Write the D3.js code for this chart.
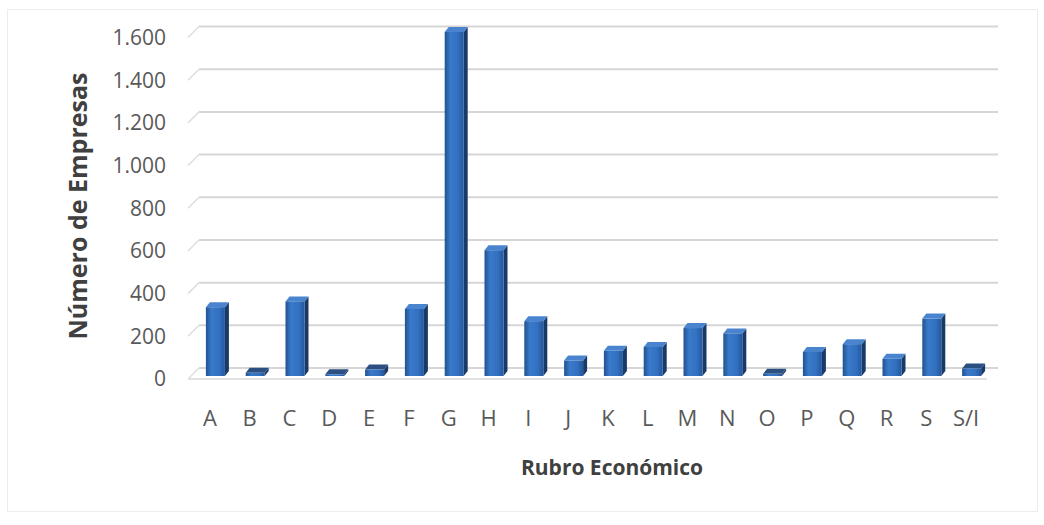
<!DOCTYPE html>
<html lang="es">
<head>
<meta charset="UTF-8">
<title>Número de Empresas por Rubro Económico</title>
<style>
  body { margin: 0; background: #fff; }
  text { font-family: "Open Sans", sans-serif; }
</style>
</head>
<body>
<script src="https://cdn.jsdelivr.net/npm/d3@7"></script>
<script>
    // datos
    var categories = ["A","B","C","D","E","F","G","H","I","J","K","L","M","N","O","P","Q","R","S","S/I"];
    var values = [320, 15, 347, 8, 30, 312, 1600, 585, 255, 72, 117, 135, 223, 198, 10, 112, 148, 80, 267, 35];
    var yTicks = [0, 200, 400, 600, 800, 1000, 1200, 1400, 1600];

    var width = 1044, height = 525;
    var depthX = 11, depthY = -11;     // profundidad del piso/pared
    var barDx = 4, barDy = -5;          // profundidad de cada barra

    var svg = d3.select("body").append("svg")
        .attr("width", width)
        .attr("height", height);

    svg.append("rect").attr("width", width).attr("height", height).attr("fill", "#fff");
    // borde tenue del área del gráfico
    svg.append("rect")
        .attr("x", 7.5).attr("y", 9.5).attr("width", 1030).attr("height", 502)
        .attr("fill", "none").attr("stroke", "#ededed");

    var x = d3.scaleBand().domain(categories).range([190, 986]);
    // plano frontal del eje de valores
    var y = d3.scaleLinear().domain([0, 1600]).range([379, 37.5]);
    // base de las barras (un poco detrás del borde del piso)
    var yBar = d3.scaleLinear().domain([0, 1600]).range([376, 32]);

    var defs = svg.append("defs");
    var g1 = defs.append("linearGradient").attr("id", "front");
    g1.append("stop").attr("offset", "0%").attr("stop-color", "#21528f");
    g1.append("stop").attr("offset", "30%").attr("stop-color", "#3a7acb");
    g1.append("stop").attr("offset", "70%").attr("stop-color", "#3270c0");
    g1.append("stop").attr("offset", "100%").attr("stop-color", "#24589c");

    // gridlines on back wall
    var grid = svg.append("g");
    grid.selectAll("line.grid").data(yTicks).enter().append("line")
        .attr("class", "grid")
        .attr("x1", 188 + depthX).attr("x2", 987 + depthX)
        .attr("y1", function(d){ return y(d) + depthY; })
        .attr("y2", function(d){ return y(d) + depthY; })
        .attr("stroke", "#d6d6d6").attr("stroke-width", 2);
    // diagonals on side wall
    grid.selectAll("line.diag").data(yTicks).enter().append("line")
        .attr("class", "diag")
        .attr("x1", 188).attr("x2", 188 + depthX)
        .attr("y1", function(d){ return y(d); })
        .attr("y2", function(d){ return y(d) + depthY; })
        .attr("stroke", "#dedede").attr("stroke-width", 1.5);
    // front edge of floor
    svg.append("line")
        .attr("x1", 188).attr("x2", 987)
        .attr("y1", y(0)).attr("y2", y(0))
        .attr("stroke", "#e2e2e2").attr("stroke-width", 2);

    // bars
    var bars = svg.selectAll("g.bar").data(values).enter().append("g").attr("class", "bar");
    var bw = 19;
    function bx(d, i){ return x(categories[i]) + x.bandwidth() / 2 - 4; }

    bars.append("polygon")   // side face
        .attr("points", function(d, i){
            var x0 = bx(d, i) + bw, t = yBar(d), b = yBar(0);
            return [[x0, t], [x0 + barDx, t + barDy], [x0 + barDx, b + barDy], [x0, b]].join(" ");
        })
        .attr("fill", "#183a68");
    bars.append("polygon")   // top face
        .attr("points", function(d, i){
            var x0 = bx(d, i), t = yBar(d);
            return [[x0, t], [x0 + barDx, t + barDy], [x0 + bw + barDx, t + barDy], [x0 + bw, t]].join(" ");
        })
        .attr("fill", function(d){ return d < 40 ? "#2c4f82" : "#4a84cf"; });
    bars.append("rect")      // front face
        .attr("x", bx)
        .attr("y", function(d){ return yBar(d); })
        .attr("width", bw)
        .attr("height", function(d){ return yBar(0) - yBar(d); })
        .attr("fill", "url(#front)");

    // value axis labels
    svg.selectAll("text.ytick").data(yTicks).enter().append("text")
        .attr("class", "ytick")
        .attr("x", 166).attr("y", function(d){ return y(d); })
        .attr("dy", "0.35em")
        .attr("text-anchor", "end")
        .attr("font-size", 21)
        .attr("fill", "#595959")
        .text(function(d){ return d3.format(",")(d).replace(/,/g, "."); });

    // category labels
    svg.selectAll("text.xtick").data(categories).enter().append("text")
        .attr("class", "xtick")
        .attr("x", function(d){ return x(d) + x.bandwidth() / 2; })
        .attr("y", 426)
        .attr("text-anchor", "middle")
        .attr("font-size", 22)
        .attr("fill", "#595959")
        .text(function(d){ return d; });

    // axis titles
    svg.append("text")
        .attr("transform", "translate(87,206) rotate(-90)")
        .attr("text-anchor", "middle")
        .attr("font-size", 25).attr("font-weight", "bold")
        .attr("fill", "#404040")
        .text("Número de Empresas");

    svg.append("text")
        .attr("x", 612).attr("y", 475)
        .attr("text-anchor", "middle")
        .attr("font-size", 21).attr("font-weight", "bold")
        .attr("fill", "#404040")
        .text("Rubro Económico");
</script>
</body>
</html>
